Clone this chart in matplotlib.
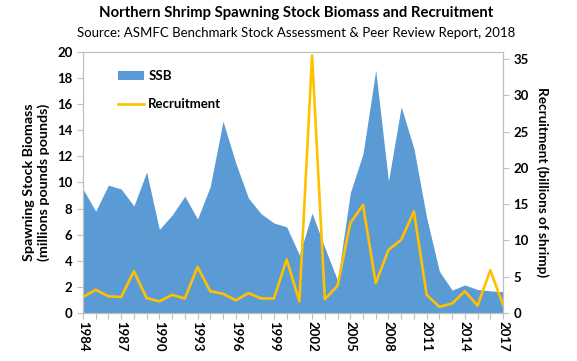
import matplotlib.pyplot as plt
import numpy as np

plt.rcParams['font.family'] = ['Lato', 'DejaVu Sans']

years = np.arange(1984, 2018)
# spawning stock biomass (millions of pounds)
ssb = [9.5, 7.8, 9.8, 9.5, 8.2, 10.8, 6.4, 7.5, 8.95, 7.2, 9.7, 14.7,
       11.5, 8.8, 7.6, 6.9, 6.6, 4.45, 7.65, 5.0, 2.5, 9.2, 12.2, 18.6,
       10.1, 15.8, 12.6, 7.3, 3.2, 1.75, 2.15, 1.8, 1.7, 1.63]
# recruitment (billions of shrimp)
recruit = [2.2, 3.2, 2.3, 2.2, 5.75, 2.05, 1.6, 2.5, 2.0, 6.35, 3.0, 2.65,
           1.75, 2.75, 2.0, 2.0, 7.4, 1.6, 35.5, 1.9, 3.75, 12.4, 14.9, 4.1,
           8.7, 10.1, 14.0, 2.5, 0.85, 1.3, 3.0, 1.0, 5.9, 1.15]

blue = '#5B9BD5'
gold = '#FFC000'
grey = '#BFBFBF'

fig = plt.figure(figsize=(5.77, 3.61), dpi=100)
ax = fig.add_axes([0.1438, 0.133, 0.728, 0.723])
ax2 = ax.twinx()

ax.fill_between(years, ssb, color=blue, linewidth=0, label='SSB')
ax2.plot(years, recruit, color=gold, linewidth=1.9, label='Recruitment')

ax.set_xlim(1984, 2017)
ax.set_ylim(0, 20)
ax2.set_ylim(0, 36)
ax.set_yticks(range(0, 21, 2))
ax2.set_yticks(range(0, 36, 5))
ax.set_xticks(years, minor=True)
ax.set_xticks(years[::3])
ax.set_xticklabels([str(y) for y in years[::3]], rotation=270,
                   fontsize=9.5, fontweight='bold')

for a in (ax, ax2):
    for s in a.spines.values():
        s.set_color(grey)
        s.set_linewidth(0.8)
    a.tick_params(axis='y', colors=grey, labelcolor='black', labelsize=9.5,
                  length=4, width=0.8)
    for lab in a.get_yticklabels():
        lab.set_fontweight('bold')
ax.tick_params(axis='x', which='both', colors=grey, labelcolor='black',
               length=4, width=0.8, pad=2)

ax.set_ylabel('Spawning Stock Biomass\n(millions pounds pounds)',
              fontsize=10.3, fontweight='bold', labelpad=5)
ax2.set_ylabel('Recruitment (billions of shrimp)', rotation=270,
               fontsize=9.8, fontweight='bold', labelpad=14)

h1, l1 = ax.get_legend_handles_labels()
h2, l2 = ax2.get_legend_handles_labels()
ax.legend(h1 + h2, l1 + l2, loc='upper left', bbox_to_anchor=(0.055, 0.975),
          frameon=False, prop={'weight': 'bold', 'size': 9.5},
          handlelength=2.0, handletextpad=0.3, labelspacing=1.2)

# titles, scaled to the width they take in the original
title = fig.text(0.513, 0.963, 'Northern Shrimp Spawning Stock Biomass and Recruitment',
                 ha='center', va='center', fontsize=10, fontweight='bold')
sub = fig.text(0.513, 0.908, 'Source: ASMFC Benchmark Stock Assessment & Peer Review Report, 2018',
               ha='center', va='center', fontsize=10)
r = fig.canvas.get_renderer()
for t, w in ((title, 393), (sub, 441)):
    cur = t.get_window_extent(renderer=r).width
    t.set_fontsize(t.get_fontsize() * w / cur)

fig.savefig('out.png', dpi=100)
